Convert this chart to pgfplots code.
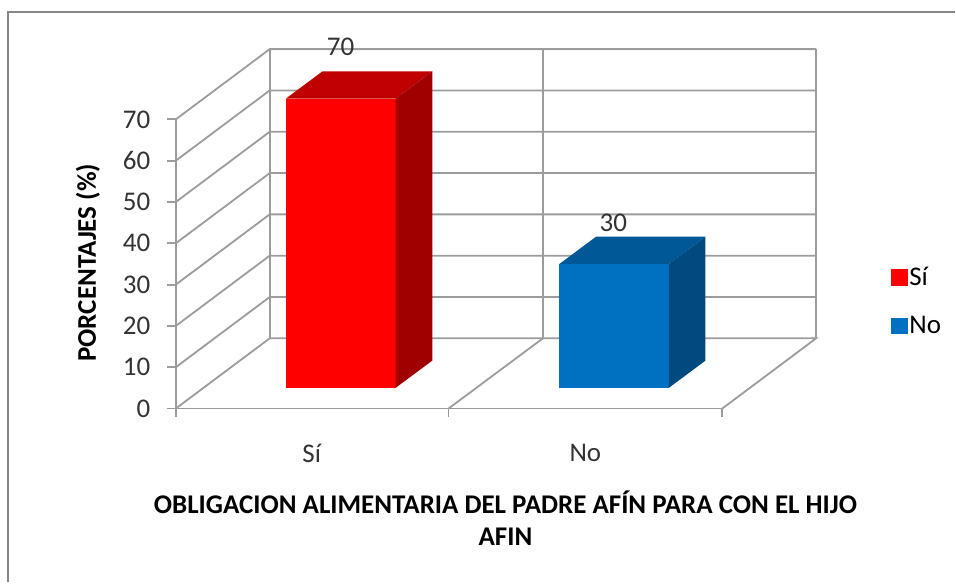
\documentclass[border=0pt]{standalone}
\usepackage{pgfplots}
\pgfplotsset{compat=1.18}
\usepackage{fontspec}
\setmainfont{Carlito}
\definecolor{gridg}{HTML}{9C9C9C}
\definecolor{frameg}{HTML}{868686}
\definecolor{redtop}{HTML}{C00000}
\definecolor{redside}{HTML}{A00000}
\definecolor{bluefront}{HTML}{0070C0}
\definecolor{bluetop}{HTML}{005896}
\definecolor{blueside}{HTML}{004A80}
\begin{document}
\begin{tikzpicture}
\begin{axis}[
  scale only axis, width=547pt, height=289.5pt,
  xmin=176, xmax=723, ymin=0, ymax=70,
  clip=false,
  axis x line*=bottom, axis y line*=left,
  axis line style={gridg, line width=1.8pt, -},
  tick style={gridg, line width=1.8pt},
  tick align=outside,
  major tick length=9pt, minor tick length=8pt,
  xtick={312,586}, xticklabels={Sí,No},
  minor xtick={176,449,723},
  x tick style={draw=none},
  minor x tick style={gridg, line width=1.8pt, draw=gridg},
  ytick={0,10,...,70},
  /pgf/number format/assume math mode=true,
  tick label style={font=\fontsize{27}{30}\selectfont, text=black!80},
  x tick label style={yshift=-23pt},
  y tick label style={xshift=-13pt},
  ylabel={\textbf{PORCENTAJES (\%)}},
  ylabel style={at={(axis cs:88,35.3)}, anchor=center, rotate=0, font=\fontsize{27}{30}\selectfont},
  legend style={draw=none, fill=none, at={(axis cs:892,34.7)}, anchor=north west,
    font=\fontsize{27}{30}\selectfont, row sep=25pt, inner sep=0pt,
    /tikz/every even column/.style={column sep=9pt}},
  legend cell align=left,
]
% walls and floor
\addplot[gridg,line width=1.8pt,forget plot] coordinates {(176,0)(270,17)(817,17)(723,0)};
\addplot[gridg,line width=1.8pt,forget plot] coordinates {(176,10)(270,27)(817,27)};
\addplot[gridg,line width=1.8pt,forget plot] coordinates {(176,20)(270,37)(817,37)};
\addplot[gridg,line width=1.8pt,forget plot] coordinates {(176,30)(270,47)(817,47)};
\addplot[gridg,line width=1.8pt,forget plot] coordinates {(176,40)(270,57)(817,57)};
\addplot[gridg,line width=1.8pt,forget plot] coordinates {(176,50)(270,67)(817,67)};
\addplot[gridg,line width=1.8pt,forget plot] coordinates {(176,60)(270,77)(817,77)};
\addplot[gridg,line width=1.8pt,forget plot] coordinates {(176,70)(270,87)(817,87)};
\addplot[gridg,line width=1.8pt,forget plot] coordinates {(270,17)(270,87)};
\addplot[gridg,line width=1.8pt,forget plot] coordinates {(543.5,17)(543.5,87)};
\addplot[gridg,line width=1.8pt,forget plot] coordinates {(817,17)(817,87)};
\addplot[gridg,line width=1.8pt,forget plot] coordinates {(449,0)(543.5,17)};
% Sí bar
\addplot[draw=none,fill=red,forget plot] coordinates {(286,5)(396,5)(396,75)(286,75)} --cycle;
\addplot[draw=none,fill=redtop,forget plot] coordinates {(286,75)(396,75)(432.7,81.6)(322.7,81.6)} --cycle;
\addplot[draw=none,fill=redside,forget plot] coordinates {(396,5)(432.7,11.6)(432.7,81.6)(396,75)} --cycle;
% No bar
\addplot[draw=none,fill=bluefront,forget plot] coordinates {(560,5)(669.5,5)(669.5,35)(560,35)} --cycle;
\addplot[draw=none,fill=bluetop,forget plot] coordinates {(560,35)(669.5,35)(706.2,41.6)(596.7,41.6)} --cycle;
\addplot[draw=none,fill=blueside,forget plot] coordinates {(669.5,5)(706.2,11.6)(706.2,41.6)(669.5,35)} --cycle;
% legend
\addlegendimage{legend image code/.code={\fill[red] (0pt,-7.8pt) rectangle (15.7pt,7.8pt);}}
\addlegendentry{Sí}
\addlegendimage{legend image code/.code={\fill[bluefront] (0pt,-7.8pt) rectangle (15.7pt,7.8pt);}}
\addlegendentry{No}
% data labels
\node[font=\fontsize{27}{30}\selectfont,text=black!80] at (axis cs:341,87.5) {70};
\node[font=\fontsize{27}{30}\selectfont,text=black!80] at (axis cs:614,45) {30};
% axis title
\node[font=\bfseries\fontsize{27}{32}\selectfont,align=center,text=black] at (axis cs:506,-26.5) {OBLIGACION ALIMENTARIA DEL PADRE AFÍN PARA CON EL HIJO\\AFIN};
% chart frame and page extent
\draw[frameg,line width=2pt] (axis cs:8.5,-42.07) -- (axis cs:8.5,95.9) -- (axis cs:956,95.9);
\path (axis cs:0,-42.07) rectangle (axis cs:956,98.89);
\end{axis}
\end{tikzpicture}
\end{document}
